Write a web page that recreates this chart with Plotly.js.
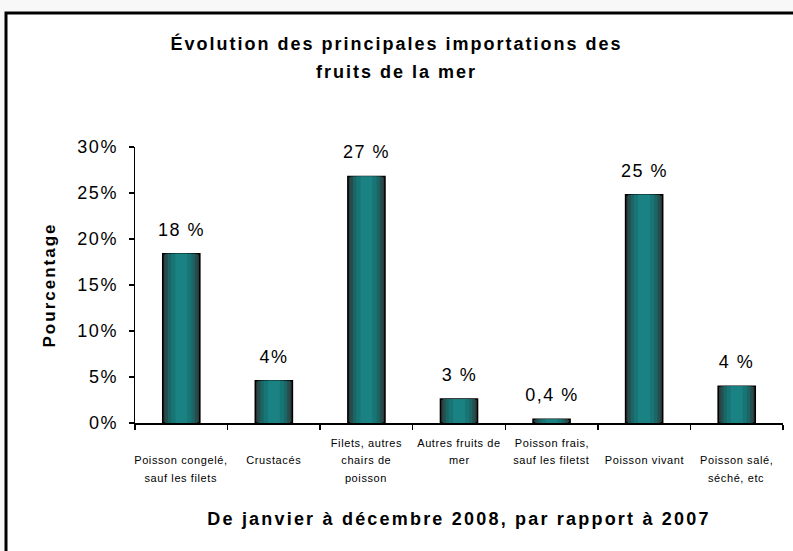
<!DOCTYPE html>
<html>
<head>
<meta charset="utf-8">
<script src="https://cdn.plot.ly/plotly-3.0.1.min.js"></script>
<style>
html,body{margin:0;padding:0;background:#f8f8f8;}
.gtitle{letter-spacing:2px;}
.xtitle{letter-spacing:2.2px;}
.ytitle{letter-spacing:2px;}
.ytick text{letter-spacing:1.5px;}
</style>
</head>
<body>
<div id="chart" style="width:793px;height:551px;"></div>
<script>
// ---- data ----
var categories = [
  "Poisson congelé, sauf les filets",
  "Crustacés",
  "Filets, autres chairs de poisson",
  "Autres fruits de mer",
  "Poisson frais, sauf les filetst",
  "Poisson vivant",
  "Poisson salé, séché, etc"
];
var values = [18.4, 4.6, 26.8, 2.6, 0.4, 24.8, 4.0];
var valueLabels = ["18 %", "4%", "27 %", "3 %", "0,4 %", "25 %", "4 %"];
// tick label lines per category (rows: 1, 2, 3)
var tickLines = [
  [null, "Poisson congelé,", "sauf les filets"],
  [null, "Crustacés", null],
  ["Filets, autres", "chairs de", "poisson"],
  ["Autres fruits de", "mer", null],
  ["Poisson frais,", "sauf les filetst", null],
  [null, "Poisson vivant", null],
  [null, "Poisson salé,", "séché, etc"]
];
var yTicks = [0, 5, 10, 15, 20, 25, 30];
var yTickText = ["0%", "5%", "10%", "15%", "20%", "25%", "30%"];
var titleLine1 = "Évolution des principales importations des";
var titleLine2 = "fruits de la mer";
var xTitle = "De janvier à décembre 2008, par rapport à 2007";
var yTitle = "Pourcentage";

// ---- layout helpers ----
var L = 135, R = 10, T = 147, B = 128, W = 793, H = 551;
var pw = W - L - R, ph = H - T - B;
function px(x) { return (x - L) / pw; }
function py(y) { return (H - B - y) / ph; }
var FONT = "Arial, 'Liberation Sans', sans-serif";

// gradient-like bar layers (outer dark -> inner teal)
var layers = [
  {w: 0.40, c: "#2e3b3b", line: 1.6},
  {w: 0.35, c: "#254f4f", line: 0},
  {w: 0.29, c: "#1c6565", line: 0},
  {w: 0.22, c: "#187575", line: 0},
  {w: 0.13, c: "#1a8282", line: 0}
];
var traces = layers.map(function (ly) {
  return {
    type: "bar",
    x: categories,
    y: values,
    width: ly.w,
    marker: {color: ly.c, line: {color: "#000", width: ly.line}},
    hoverinfo: "skip",
    showlegend: false
  };
});

var annotations = [];
var spacing = [];
annotations.push({
  x: px(W / 2), y: py(72), xref: "paper", yref: "paper",
  text: titleLine2, showarrow: false, yanchor: "middle", xanchor: "center",
  font: {family: FONT, size: 18, color: "#000", weight: "bold"}
});
spacing.push("2px");
categories.forEach(function (c, i) {
  annotations.push({
    x: c, y: values[i], xref: "x", yref: "y",
    text: valueLabels[i], showarrow: false,
    yanchor: "bottom", yshift: 12,
    font: {family: FONT, size: 18, color: "#000"}
  });
  spacing.push("1.5px");
  var rowsY = [443, 460, 478];
  tickLines[i].forEach(function (t, r) {
    if (!t) return;
    annotations.push({
      x: c, y: py(rowsY[r]), xref: "x", yref: "paper",
      text: t, showarrow: false, yanchor: "middle",
      font: {family: FONT, size: 11, color: "#000"}
    });
    spacing.push("0.6px");
  });
});

var layout = {
  width: W, height: H,
  margin: {l: L, r: R, t: T, b: B, pad: 0},
  paper_bgcolor: "#f8f8f8",
  plot_bgcolor: "rgba(0,0,0,0)",
  barmode: "overlay",
  font: {family: FONT, color: "#000"},
  title: {
    text: titleLine1,
    font: {family: FONT, size: 18, color: "#000", weight: "bold"},
    x: 0.5, xanchor: "center", y: 1 - 44 / H, yanchor: "middle"
  },
  xaxis: {
    type: "category",
    showline: true, linecolor: "#000", linewidth: 1.5,
    ticks: "outside", tickson: "boundaries", ticklen: 5, tickcolor: "#000", tickwidth: 1.5,
    showticklabels: false, showgrid: false, zeroline: false,
    title: {text: xTitle,
            font: {family: FONT, size: 18, color: "#000", weight: "bold"}, standoff: 89},
    fixedrange: true
  },
  yaxis: {
    range: [0, 30],
    tickvals: yTicks, ticktext: yTickText,
    showline: true, linecolor: "#000", linewidth: 1.5,
    ticks: "outside", ticklen: 5, tickcolor: "#000", tickwidth: 1.5,
    tickfont: {family: FONT, size: 18, color: "#000"},
    ticklabelstandoff: 7,
    showgrid: false, zeroline: false,
    title: {text: yTitle, font: {family: FONT, size: 17, color: "#000", weight: "bold"}, standoff: 17},
    fixedrange: true
  },
  shapes: [{
    type: "rect", xref: "paper", yref: "paper", layer: "below",
    x0: px(6), x1: px(810), y0: py(570), y1: py(13),
    fillcolor: "#ffffff", line: {color: "#000", width: 3}
  }],
  annotations: annotations
};

function applySpacing() {
  document.querySelectorAll("#chart g.annotation").forEach(function (g) {
    var i = +g.getAttribute("data-index");
    var t = g.querySelector("text");
    if (t && spacing[i]) t.style.letterSpacing = spacing[i];
  });
}
Plotly.newPlot("chart", traces, layout, {displayModeBar: false, staticPlot: true}).then(applySpacing);
</script>
</body>
</html>
